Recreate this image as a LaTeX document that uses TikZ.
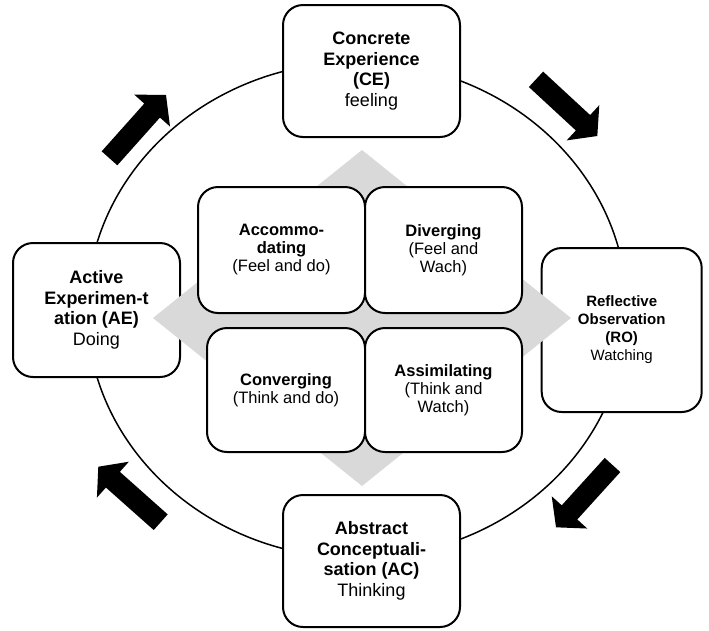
\documentclass[tikz,border=0pt]{standalone}
\usepackage{fontspec}
\setmainfont{Liberation Sans}
\usetikzlibrary{calc}
\definecolor{diamondgray}{HTML}{D9D9D9}
% block arrow from a tail coordinate to a tip coordinate
\newcommand\cyclearrow[2]{%
  \coordinate (#1-base) at ($(#1)!64pt!(#2)$);
  \fill[black] ($(#1)!10.5pt!90:(#2)$) -- ($(#1-base)!10.5pt!90:(#2)$)
    -- ($(#1-base)!24pt!90:(#2)$) -- (#2)
    -- ($(#1-base)!24pt!-90:(#2)$) -- ($(#1-base)!10.5pt!-90:(#2)$)
    -- ($(#1)!10.5pt!-90:(#2)$) -- cycle;}
\begin{document}
\begin{tikzpicture}[x=1pt,y=-1pt,
  stagebox/.style={draw=black, line width=2pt, fill=white, rounded corners=20pt,
    align=center, inner sep=0pt},
  bigtext/.style={font=\fontsize{18}{20.5}\selectfont},
  midtext/.style={font=\fontsize{15}{18}\selectfont},
  smalltext/.style={font=\fontsize{16.5}{18}\selectfont}]
\useasboundingbox (0,0) rectangle (709,630);

% learning cycle
\draw[line width=1.5pt] (357,310) ellipse [x radius=270pt, y radius=248pt];

% the four stages
\node[stagebox, bigtext, minimum width=177pt, minimum height=132pt] (ce) at (371.5,71)
  {\textbf{Concrete}\\\textbf{Experience}\\\textbf{(CE)}\\feeling};
\node[stagebox, midtext, minimum width=160pt, minimum height=164pt] (ro) at (621.7,330)
  {\textbf{Reflective}\\\textbf{Observation}\\\textbf{(RO)}\\Watching};
\node[stagebox, bigtext, minimum width=177pt, minimum height=132pt] (ac) at (371.5,561)
  {\textbf{Abstract}\\\textbf{Conceptuali-}\\\textbf{sation (AC)}\\Thinking};
\node[stagebox, bigtext, minimum width=167pt, minimum height=134pt] (ae) at (96.5,310)
  {\textbf{Active}\\\textbf{Experimen-t}\\\textbf{ation (AE)}\\Doing};

% background diamond of the style matrix
\fill[diamondgray] (153,318) -- (362,150) -- (571,318) -- (362,486) -- cycle;

% learning styles
\node[stagebox, smalltext, minimum width=167pt, minimum height=126pt] (acc) at (281.5,250)
  {\textbf{Accommo-}\\\textbf{dating}\\(Feel and do)};
\node[stagebox, smalltext, minimum width=157pt, minimum height=126pt] (div) at (443.5,250)
  {\textbf{Diverging}\\(Feel and\\Wach)};
\node[stagebox, smalltext, minimum width=158pt, minimum height=124pt] (con) at (286,390)
  {\textbf{Converging}\\(Think and do)};
\node[stagebox, smalltext, minimum width=157pt, minimum height=124pt] (asm) at (443.5,390)
  {\textbf{Assimilating}\\(Think and\\Watch)};

% direction of the cycle
\coordinate (a1) at (109.5,158.3); \coordinate (a1tip) at (166,95);
\coordinate (a2) at (536,79.3);    \coordinate (a2tip) at (597.3,136);
\coordinate (a3) at (612.5,465);   \coordinate (a3tip) at (556,527.3);
\coordinate (a4) at (160.7,522.2); \coordinate (a4tip) at (98.3,466.7);
\cyclearrow{a1}{a1tip}
\cyclearrow{a2}{a2tip}
\cyclearrow{a3}{a3tip}
\cyclearrow{a4}{a4tip}
\end{tikzpicture}
\end{document}
